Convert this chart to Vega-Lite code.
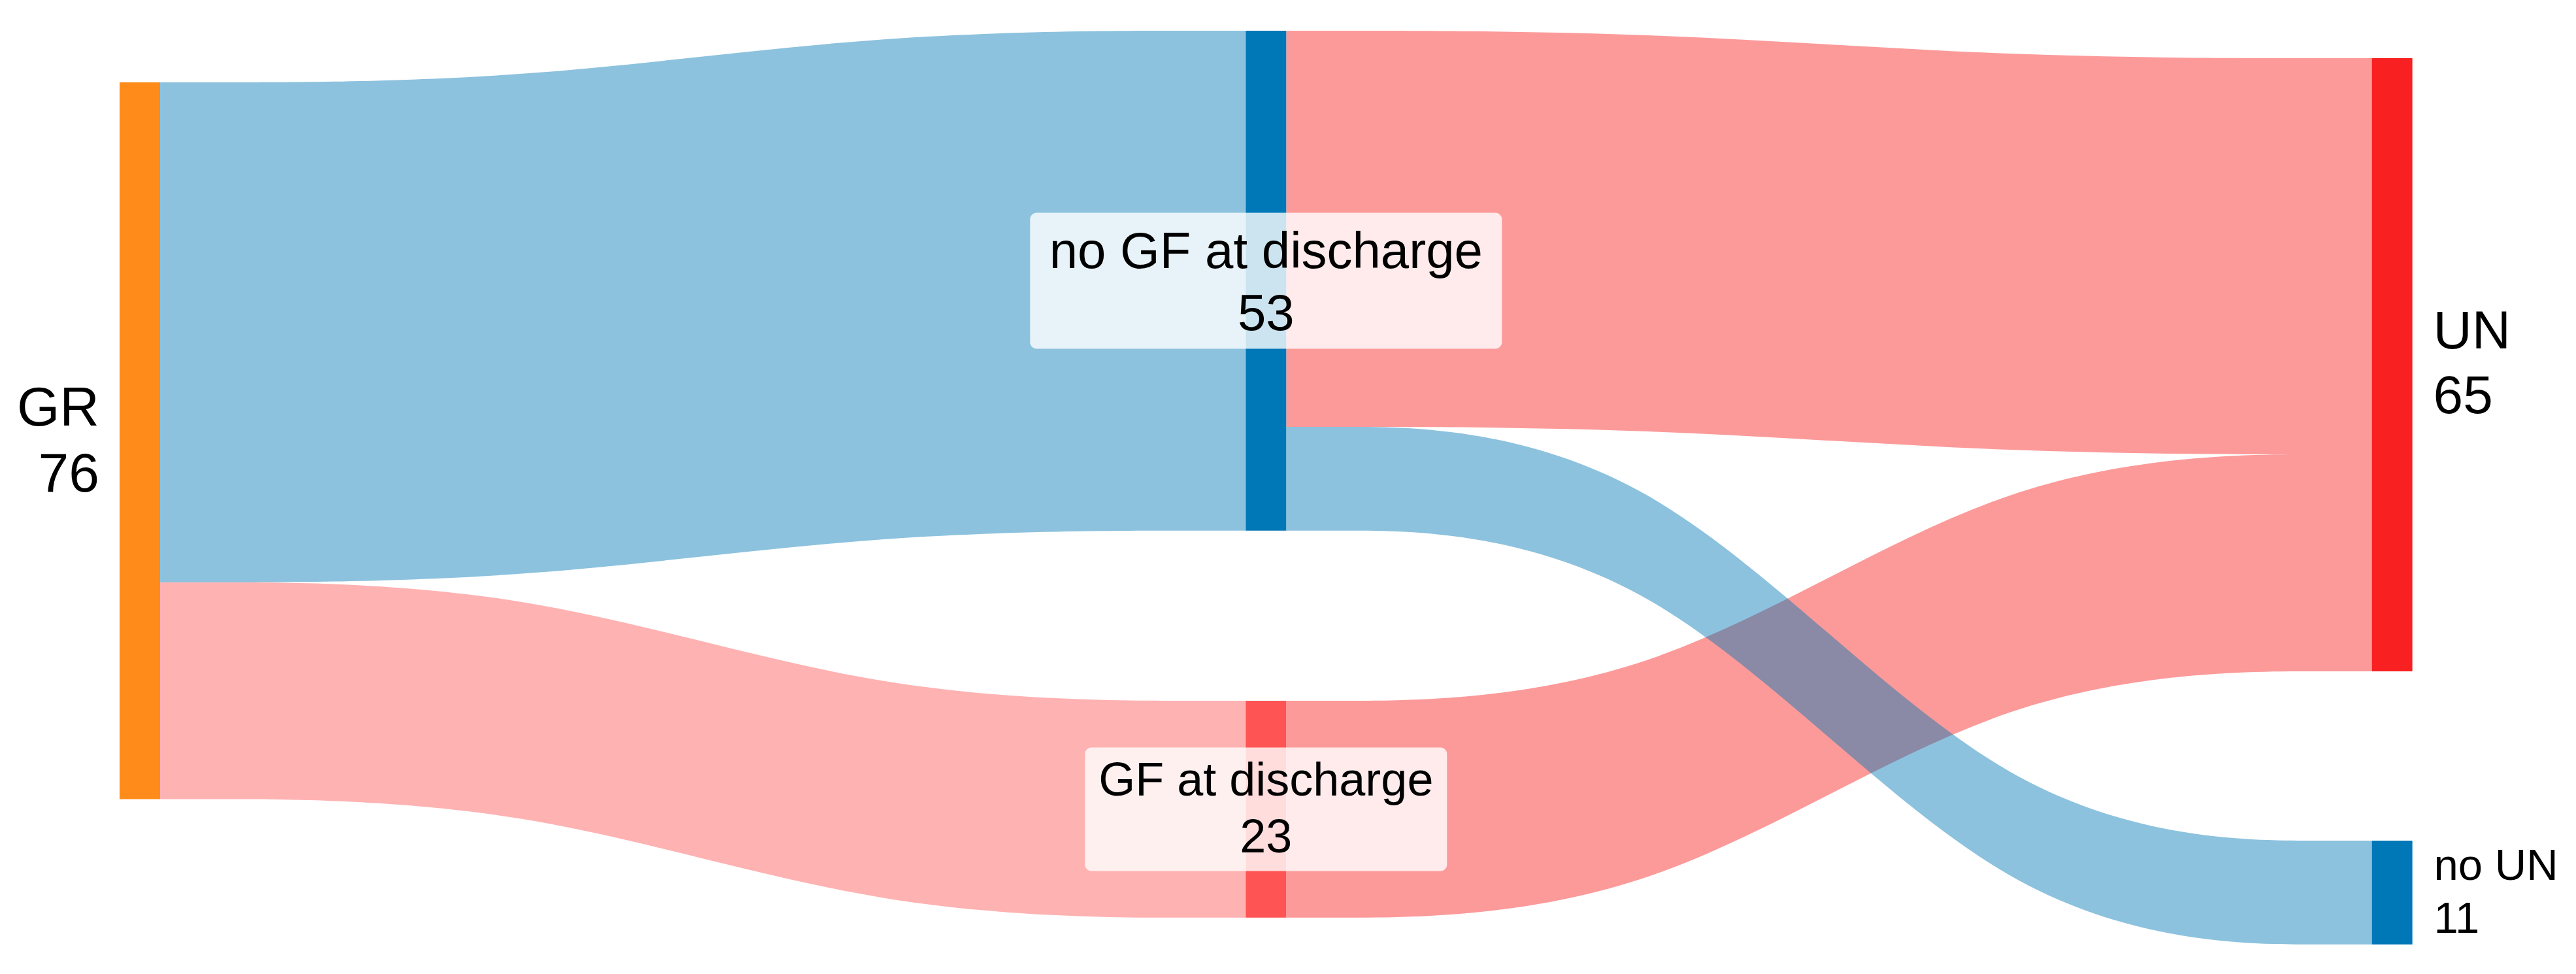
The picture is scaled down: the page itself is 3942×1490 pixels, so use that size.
{
  "$schema": "https://vega.github.io/schema/vega-lite/v6.json",
  "width": 3942,
  "height": 1490,
  "autosize": {"type": "fit", "contains": "padding"},
  "padding": 0,
  "background": "white",
  "config": {"view": {"stroke": null}, "text": {"font": "Liberation Sans"}},
  "datasets": {
    "nodes": [
      {"node": "GR", "label": "GR\n76", "value": 76, "stage": 0, "y0": 8.73, "y1": 84.73},
      {"node": "no GF at discharge", "label": "no GF at discharge\n53", "value": 53, "stage": 1, "y0": 3.26, "y1": 56.26},
      {"node": "GF at discharge", "label": "GF at discharge\n23", "value": 23, "stage": 1, "y0": 74.29, "y1": 97.29},
      {"node": "UN", "label": "UN\n65", "value": 65, "stage": 2, "y0": 6.17, "y1": 71.17},
      {"node": "no UN", "label": "no UN\n11", "value": 11, "stage": 2, "y0": 89.12, "y1": 100.12}
    ],
    "links": [
      {"link": "GR-noGF", "target": "no GF at discharge", "x": 0.018, "top": 8.73, "bottom": 61.73},
      {"link": "GR-noGF", "target": "no GF at discharge", "x": 0.3393, "top": 8.73, "bottom": 61.73},
      {"link": "GR-noGF", "target": "no GF at discharge", "x": 0.6607, "top": 3.26, "bottom": 56.26},
      {"link": "GR-noGF", "target": "no GF at discharge", "x": 0.982, "top": 3.26, "bottom": 56.26},
      {"link": "GR-GF", "target": "GF at discharge", "x": 0.018, "top": 61.73, "bottom": 84.73},
      {"link": "GR-GF", "target": "GF at discharge", "x": 0.3393, "top": 61.73, "bottom": 84.73},
      {"link": "GR-GF", "target": "GF at discharge", "x": 0.6607, "top": 74.29, "bottom": 97.29},
      {"link": "GR-GF", "target": "GF at discharge", "x": 0.982, "top": 74.29, "bottom": 97.29},
      {"link": "noGF-UN", "target": "UN", "x": 1.018, "top": 3.26, "bottom": 45.26},
      {"link": "noGF-UN", "target": "UN", "x": 1.3393, "top": 3.26, "bottom": 45.26},
      {"link": "noGF-UN", "target": "UN", "x": 1.6607, "top": 6.17, "bottom": 48.17},
      {"link": "noGF-UN", "target": "UN", "x": 1.982, "top": 6.17, "bottom": 48.17},
      {"link": "noGF-noUN", "target": "no UN", "x": 1.018, "top": 45.26, "bottom": 56.26},
      {"link": "noGF-noUN", "target": "no UN", "x": 1.3393, "top": 45.26, "bottom": 56.26},
      {"link": "noGF-noUN", "target": "no UN", "x": 1.6607, "top": 89.12, "bottom": 100.12},
      {"link": "noGF-noUN", "target": "no UN", "x": 1.982, "top": 89.12, "bottom": 100.12},
      {"link": "GF-UN", "target": "UN", "x": 1.018, "top": 74.29, "bottom": 97.29},
      {"link": "GF-UN", "target": "UN", "x": 1.3393, "top": 74.29, "bottom": 97.29},
      {"link": "GF-UN", "target": "UN", "x": 1.6607, "top": 48.17, "bottom": 71.17},
      {"link": "GF-UN", "target": "UN", "x": 1.982, "top": 48.17, "bottom": 71.17}
    ]
  },
  "layer": [
    {
      "data": {"name": "links"},
      "transform": [{"filter": "datum.target === 'UN' || datum.target === 'GF at discharge'"}],
      "mark": {"type": "area", "interpolate": "basis", "orient": "vertical", "fillOpacity": 0.45},
      "encoding": {
        "x": {"field": "x", "type": "quantitative", "scale": {"domain": [-0.12418, 2.16329], "nice": false, "zero": false}, "axis": null},
        "y": {"field": "top", "type": "quantitative", "scale": {"domain": [0, 103.26], "reverse": true, "nice": false, "zero": false}, "axis": null, "stack": null},
        "y2": {"field": "bottom"},
        "detail": {"field": "link"},
        "color": {"field": "target", "type": "nominal", "scale": {"domain": ["GR", "no GF at discharge", "GF at discharge", "UN", "no UN"], "range": ["#ff8c1a", "#0077b6", "#ff5454", "#f82020", "#0077b6"]}, "legend": null}
      }
    },
    {
      "data": {"name": "links"},
      "transform": [{"filter": "datum.target === 'no UN' || datum.target === 'no GF at discharge'"}],
      "mark": {"type": "area", "interpolate": "basis", "orient": "vertical", "fillOpacity": 0.45},
      "encoding": {
        "x": {"field": "x", "type": "quantitative", "scale": {"domain": [-0.12418, 2.16329], "nice": false, "zero": false}, "axis": null},
        "y": {"field": "top", "type": "quantitative", "scale": {"domain": [0, 103.26], "reverse": true, "nice": false, "zero": false}, "axis": null, "stack": null},
        "y2": {"field": "bottom"},
        "detail": {"field": "link"},
        "color": {"field": "target", "type": "nominal", "scale": {"domain": ["GR", "no GF at discharge", "GF at discharge", "UN", "no UN"], "range": ["#ff8c1a", "#0077b6", "#ff5454", "#f82020", "#0077b6"]}, "legend": null}
      }
    },
    {
      "data": {"name": "nodes"},
      "mark": {"type": "rect", "width": 62},
      "encoding": {
        "x": {"field": "stage", "type": "quantitative", "scale": {"domain": [-0.12418, 2.16329], "nice": false, "zero": false}, "axis": null},
        "y": {"field": "y0", "type": "quantitative", "scale": {"domain": [0, 103.26], "reverse": true, "nice": false, "zero": false}, "axis": null},
        "y2": {"field": "y1"},
        "color": {"field": "node", "type": "nominal", "scale": {"domain": ["GR", "no GF at discharge", "GF at discharge", "UN", "no UN"], "range": ["#ff8c1a", "#0077b6", "#ff5454", "#f82020", "#0077b6"]}, "legend": null}
      }
    },
    {
      "data": {"name": "nodes"},
      "transform": [{"filter": "datum.node === 'no GF at discharge'"}, {"calculate": "(datum.y0 + datum.y1) / 2", "as": "mid"}],
      "mark": {"type": "rect", "width": 722, "height": 208, "cornerRadius": 10, "fill": "white", "opacity": 0.8},
      "encoding": {
        "x": {"field": "stage", "type": "quantitative", "scale": {"domain": [-0.12418, 2.16329], "nice": false, "zero": false}, "axis": null},
        "y": {"field": "mid", "type": "quantitative", "scale": {"domain": [0, 103.26], "reverse": true, "nice": false, "zero": false}, "axis": null}
      }
    },
    {
      "data": {"name": "nodes"},
      "transform": [{"filter": "datum.node === 'GF at discharge'"}, {"calculate": "(datum.y0 + datum.y1) / 2", "as": "mid"}],
      "mark": {"type": "rect", "width": 554, "height": 189, "cornerRadius": 10, "fill": "white", "opacity": 0.8},
      "encoding": {
        "x": {"field": "stage", "type": "quantitative", "scale": {"domain": [-0.12418, 2.16329], "nice": false, "zero": false}, "axis": null},
        "y": {"field": "mid", "type": "quantitative", "scale": {"domain": [0, 103.26], "reverse": true, "nice": false, "zero": false}, "axis": null}
      }
    },
    {
      "data": {"name": "nodes"},
      "transform": [{"filter": "datum.node === 'GR'"}, {"calculate": "(datum.y0 + datum.y1) / 2", "as": "mid"}],
      "mark": {"type": "text", "align": "right", "baseline": "middle", "dx": -62, "dy": -48, "fontSize": 84, "lineHeight": 101, "lineBreak": "\n", "color": "black"},
      "encoding": {
        "x": {"field": "stage", "type": "quantitative", "scale": {"domain": [-0.12418, 2.16329], "nice": false, "zero": false}, "axis": null},
        "y": {"field": "mid", "type": "quantitative", "scale": {"domain": [0, 103.26], "reverse": true, "nice": false, "zero": false}, "axis": null},
        "text": {"field": "label"}
      }
    },
    {
      "data": {"name": "nodes"},
      "transform": [{"filter": "datum.node === 'UN'"}, {"calculate": "(datum.y0 + datum.y1) / 2", "as": "mid"}],
      "mark": {"type": "text", "align": "left", "baseline": "middle", "dx": 63, "dy": -50, "fontSize": 82, "lineHeight": 99, "lineBreak": "\n", "color": "black"},
      "encoding": {
        "x": {"field": "stage", "type": "quantitative", "scale": {"domain": [-0.12418, 2.16329], "nice": false, "zero": false}, "axis": null},
        "y": {"field": "mid", "type": "quantitative", "scale": {"domain": [0, 103.26], "reverse": true, "nice": false, "zero": false}, "axis": null},
        "text": {"field": "label"}
      }
    },
    {
      "data": {"name": "nodes"},
      "transform": [{"filter": "datum.node === 'no UN'"}, {"calculate": "(datum.y0 + datum.y1) / 2", "as": "mid"}],
      "mark": {"type": "text", "align": "left", "baseline": "middle", "dx": 64, "dy": -39, "fontSize": 67, "lineHeight": 81, "lineBreak": "\n", "color": "black"},
      "encoding": {
        "x": {"field": "stage", "type": "quantitative", "scale": {"domain": [-0.12418, 2.16329], "nice": false, "zero": false}, "axis": null},
        "y": {"field": "mid", "type": "quantitative", "scale": {"domain": [0, 103.26], "reverse": true, "nice": false, "zero": false}, "axis": null},
        "text": {"field": "label"}
      }
    },
    {
      "data": {"name": "nodes"},
      "transform": [{"filter": "datum.node === 'no GF at discharge'"}, {"calculate": "(datum.y0 + datum.y1) / 2", "as": "mid"}],
      "mark": {"type": "text", "align": "center", "baseline": "middle", "dy": -42, "fontSize": 78, "lineHeight": 95, "lineBreak": "\n", "color": "black"},
      "encoding": {
        "x": {"field": "stage", "type": "quantitative", "scale": {"domain": [-0.12418, 2.16329], "nice": false, "zero": false}, "axis": null},
        "y": {"field": "mid", "type": "quantitative", "scale": {"domain": [0, 103.26], "reverse": true, "nice": false, "zero": false}, "axis": null},
        "text": {"field": "label"}
      }
    },
    {
      "data": {"name": "nodes"},
      "transform": [{"filter": "datum.node === 'GF at discharge'"}, {"calculate": "(datum.y0 + datum.y1) / 2", "as": "mid"}],
      "mark": {"type": "text", "align": "center", "baseline": "middle", "dy": -43, "fontSize": 72, "lineHeight": 87, "lineBreak": "\n", "color": "black"},
      "encoding": {
        "x": {"field": "stage", "type": "quantitative", "scale": {"domain": [-0.12418, 2.16329], "nice": false, "zero": false}, "axis": null},
        "y": {"field": "mid", "type": "quantitative", "scale": {"domain": [0, 103.26], "reverse": true, "nice": false, "zero": false}, "axis": null},
        "text": {"field": "label"}
      }
    }
  ]
}
